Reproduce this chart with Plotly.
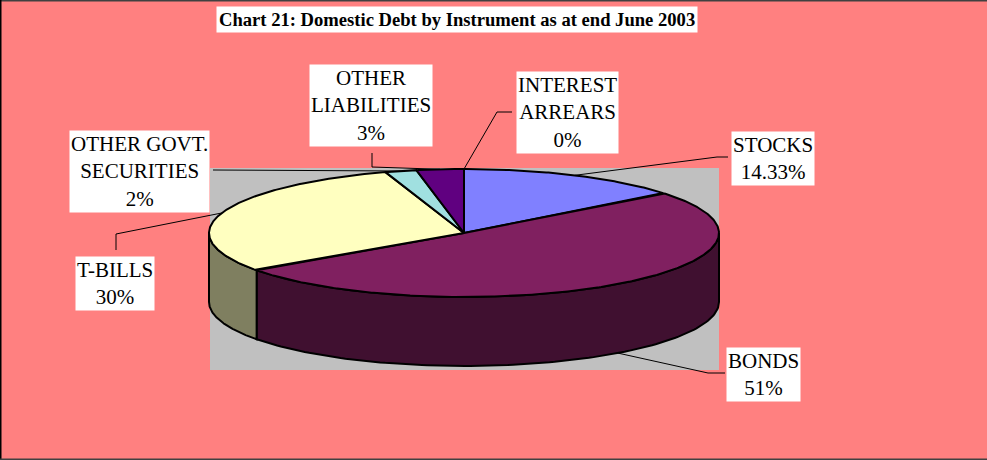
import numpy as np
import plotly.graph_objects as go

# Domestic debt by instrument, share of total (%), clockwise from 12 o'clock
categories = ["STOCKS", "BONDS", "T-BILLS", "OTHER GOVT.<br>SECURITIES",
              "OTHER<br>LIABILITIES", "INTEREST<br>ARREARS"]
shares = [14.33, 51, 30, 2, 3, 0]
share_fmt = ["{:.2f}%", "{:.0f}%", "{:.0f}%", "{:.0f}%", "{:.0f}%", "{:.0f}%"]
top_colors = ["#8080FF", "#802060", "#FFFFC0", "#A0E0E0", "#600080", "#FF8080"]

# label box centres and leader-line elbows (canvas pixels)
label_pos = [(772.5, 158), (763.5, 374), (115, 283), (139.5, 171.5), (371, 105.5), (567, 112)]
leader_start = [[(728, 157), (717, 157)],
                [(725, 373), (708, 373)],
                [(116, 250), (116, 234)],
                [(213, 170)],
                [(372, 153), (372, 167)],
                [(512, 112), (497, 112)]]
leader_on_side = [False, True, False, False, False, False]

W, H = 987, 460
CX, CY, RX, RY, DEPTH = 464, 233, 255, 64, 69
BG = "#FF8080"
FONT = "Liberation Serif"


def half(c):
    r, g, b = (int(c[i:i + 2], 16) for i in (1, 3, 5))
    return "#{:02X}{:02X}{:02X}".format(r // 2, g // 2, b // 2)


def ell(theta_deg, dy=0.0):
    t = np.radians(theta_deg)
    return CX + RX * np.sin(t), CY - RY * np.cos(t) + dy


total = sum(shares)
bounds = np.concatenate([[0], np.cumsum(shares)]) / total * 360.0

fig = go.Figure()

# side walls (only the front half of the rim, 90..270 deg, is visible)
for i, c in enumerate(top_colors):
    a0, a1 = max(bounds[i], 90), min(bounds[i + 1], 270)
    if a1 <= a0:
        continue
    th = np.linspace(a0, a1, 120)
    xt, yt = ell(th)
    xb, yb = ell(th[::-1], DEPTH)
    xs = np.concatenate([xt, xb, xt[:1]])
    ys = np.concatenate([yt, yb, yt[:1]])
    fig.add_trace(go.Scatter(x=xs, y=ys, mode="lines", fill="toself",
                             fillcolor=half(c), line=dict(color="black", width=2),
                             hoverinfo="skip", showlegend=False))

# top faces
for i, c in enumerate(top_colors):
    a0, a1 = bounds[i], bounds[i + 1]
    if a1 - a0 <= 0:
        continue
    th = np.linspace(a0, a1, max(int((a1 - a0) * 2), 4))
    xa, ya = ell(th)
    xs = np.concatenate([[CX], xa, [CX]])
    ys = np.concatenate([[CY], ya, [CY]])
    fig.add_trace(go.Scatter(x=xs, y=ys, mode="lines", fill="toself",
                             fillcolor=c, line=dict(color="black", width=2),
                             hoverinfo="skip", showlegend=False))

# leader lines from each label to the middle of its slice
for i in range(len(shares)):
    mid = (bounds[i] + bounds[i + 1]) / 2
    ex, ey = ell(mid, DEPTH if leader_on_side[i] else 0)
    pts = leader_start[i] + [(ex, ey)]
    fig.add_trace(go.Scatter(x=[p[0] for p in pts], y=[p[1] for p in pts],
                             mode="lines", line=dict(color="black", width=1),
                             hoverinfo="skip", showlegend=False))

annotations = []
for i, name in enumerate(categories):
    annotations.append(dict(
        x=label_pos[i][0], y=label_pos[i][1], xref="x", yref="y",
        text=name + "<br>" + share_fmt[i].format(shares[i]),
        showarrow=False, bgcolor="white", borderpad=1,
        font=dict(family=FONT, size=21, color="black"),
        xanchor="center", yanchor="middle", align="center"))

annotations.append(dict(
    x=457, y=19.5, xref="x", yref="y",
    text="<b>Chart 21: Domestic Debt by Instrument as at end June 2003</b>",
    showarrow=False, bgcolor="white", borderpad=2,
    font=dict(family=FONT, size=18.6, color="black"),
    xanchor="center", yanchor="middle"))

shapes = [
    # grey plot area behind the pie
    dict(type="rect", xref="x", yref="y", x0=210, x1=719, y0=168, y1=370,
         fillcolor="#C0C0C0", line=dict(width=0), layer="below"),
    # chart frame
    dict(type="line", xref="x", yref="y", x0=0, x1=W, y0=0.75, y1=0.75,
         line=dict(color="#404040", width=1.5)),
    dict(type="line", xref="x", yref="y", x0=0.75, x1=0.75, y0=0, y1=H,
         line=dict(color="black", width=1.5)),
    dict(type="line", xref="x", yref="y", x0=0, x1=W, y0=459.25, y1=459.25,
         line=dict(color="#404040", width=1.5)),
]

fig.update_layout(
    width=W, height=H,
    margin=dict(l=0, r=0, t=0, b=0),
    paper_bgcolor=BG, plot_bgcolor=BG,
    xaxis=dict(range=[0, W], visible=False, fixedrange=True),
    yaxis=dict(range=[H, 0], visible=False, fixedrange=True),
    annotations=annotations, shapes=shapes,
    showlegend=False,
)

fig.write_html("out.html", config={"displayModeBar": False})
